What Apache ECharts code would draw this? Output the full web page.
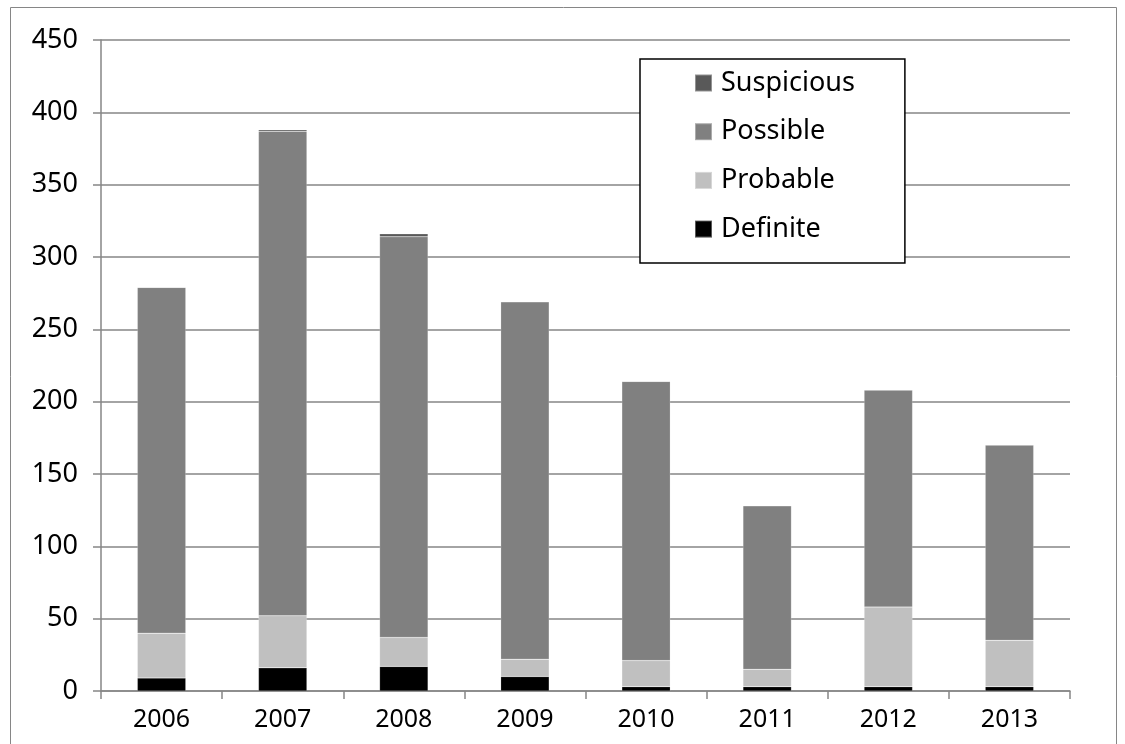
<!DOCTYPE html>
<html>
<head>
<meta charset="utf-8">
<script src="https://cdn.jsdelivr.net/npm/echarts@6/dist/echarts.min.js"></script>
<style>
  html, body { margin: 0; padding: 0; background: #fff; }
  #chart { width: 1125px; height: 744px; }
</style>
</head>
<body>
<div id="chart"></div>
<script>
// data
var years = ['2006', '2007', '2008', '2009', '2010', '2011', '2012', '2013'];
var definite   = [9, 16, 17, 10, 3, 3, 3, 3];
var probable   = [31, 36, 20, 12, 18, 12, 55, 32];
var possible   = [239, 335, 277, 247, 193, 113, 150, 135];
var suspicious = [0, 1, 2, 0, 0, 0, 0, 0];
var yTicks = [0, 50, 100, 150, 200, 250, 300, 350, 400, 450];

var font = 'Noto Sans';
var gridColor = '#868686';

var myChart = echarts.init(document.getElementById('chart'));

function bar(name, data, color) {
    return {
        name: name,
        type: 'bar',
        stack: 'all',
        data: data,
        barWidth: '40%',
        itemStyle: { color: color, borderColor: 'rgba(255,255,255,0.35)', borderWidth: 0.5 }
    };
}

var option = {
    animation: false,
    textStyle: { fontFamily: font },
    graphic: [{
        type: 'rect',
        shape: { x: 10.5, y: 7.5, width: 1106, height: 760 },
        style: { fill: 'none', stroke: '#868686', lineWidth: 1 },
        silent: true
    }],
    grid: { left: 101, right: 55, top: 40, bottom: 53 },
    legend: {
        orient: 'vertical',
        left: 640,
        top: 59,
        padding: [10.5, 50, 20.5, 54],
        itemGap: 21.7,
        itemWidth: 17,
        itemHeight: 17,
        borderColor: '#000',
        borderWidth: 1.5,
        backgroundColor: '#fff',
        icon: 'rect',
        data: ['Suspicious', 'Possible', 'Probable', 'Definite'],
        textStyle: { fontFamily: font, fontSize: 27, color: '#000', lineHeight: 27, padding: [0, 0, 0, 4] }
    },
    xAxis: {
        type: 'category',
        data: years,
        axisLine: { lineStyle: { color: gridColor, width: 1.5 } },
        axisTick: { show: true, length: 8, lineStyle: { color: gridColor, width: 1.5 } },
        axisLabel: { fontFamily: font, fontSize: 25, color: '#000', margin: 16 }
    },
    yAxis: {
        type: 'value',
        min: yTicks[0],
        max: yTicks[yTicks.length - 1],
        interval: 50,
        axisLine: { show: true, lineStyle: { color: gridColor, width: 1.5 } },
        axisTick: { show: true, length: 8, lineStyle: { color: gridColor, width: 1.5 } },
        splitLine: { lineStyle: { color: gridColor, width: 1.5 } },
        axisLabel: { fontFamily: font, fontSize: 27, color: '#000', margin: 23 }
    },
    series: [
        bar('Definite', definite, '#000000'),
        bar('Probable', probable, '#c0c0c0'),
        bar('Possible', possible, '#808080'),
        bar('Suspicious', suspicious, '#595959')
    ]
};

myChart.setOption(option);
</script>
</body>
</html>
